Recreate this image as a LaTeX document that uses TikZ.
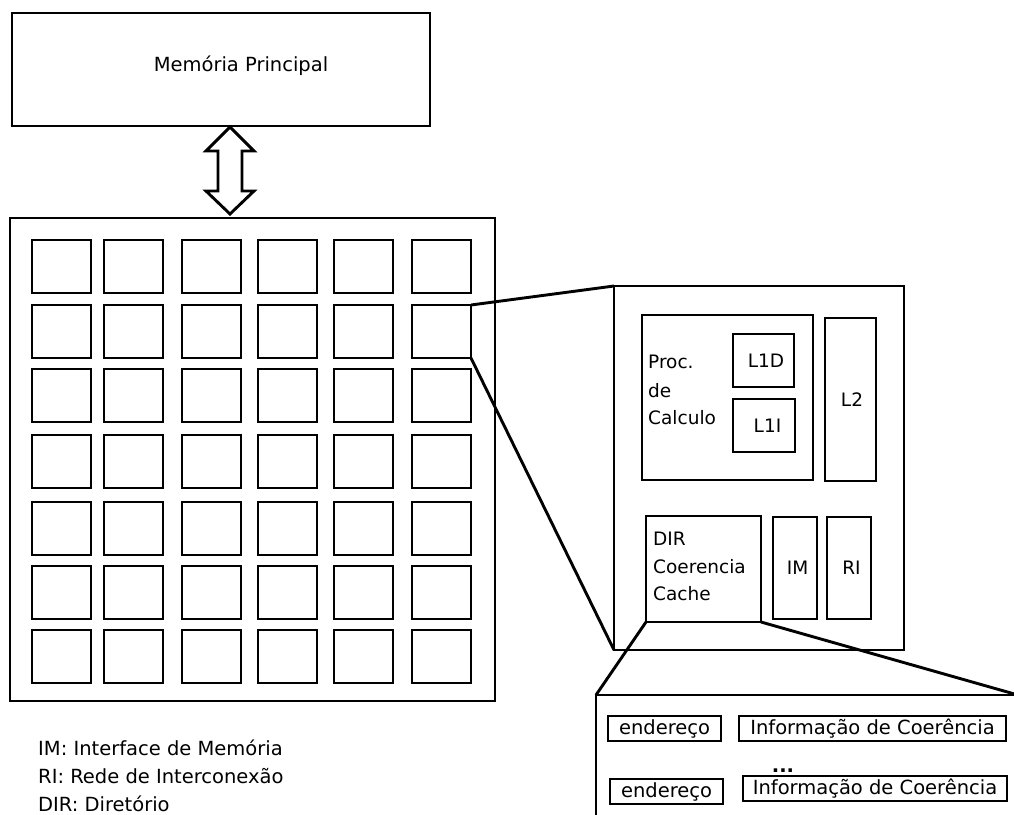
\documentclass[tikz,border=0pt]{standalone}
\usepackage{fontspec}
\setmainfont{DejaVu Sans}
\tikzset{
  bx/.style={draw, line width=2.9pt, inner sep=0pt, outer sep=0pt},
  lbl/.style={inner sep=0pt, anchor=base west},
  conn/.style={line width=2.9pt},
  big/.style={font=\fontsize{19.5}{23}\selectfont},
  mid/.style={font=\fontsize{18.5}{22}\selectfont},
}
\newcommand{\bxnode}[7][]{\node[bx,#1,minimum width={(#5-#3)*1pt},minimum height={(#6-#4)*1pt}] (#2) at ({(#3+#5)/2},{(#4+#6)/2}) {#7};}
\begin{document}
\begin{tikzpicture}[x=1pt,y=-1pt]
\path[use as bounding box] (0,0) rectangle (1014,814);
\clip (0,0) rectangle (1014,814);
\fill[white] (0,0) rectangle (1014,814);

% main memory
\bxnode[big]{mem}{12}{13}{430}{126}{}
\node[big, inner sep=0pt] (memt) at (241,66) {Memória Principal};

% double arrow
\draw[line width=2.9pt, line join=miter, fill=white]
  (230,127) -- (254,151) -- (242,151) -- (242,191) -- (254,191) -- (230,214)
  -- (206,191) -- (218,191) -- (218,151) -- (206,151) -- cycle;

% grid
\bxnode{grid}{10}{218}{495}{701}{}
\foreach \c/\x in {1/32,2/104,3/182,4/258,5/334,6/412}{
  \foreach \r/\y in {1/240,2/305,3/369,4/435,5/502,6/566,7/630}{
    \bxnode{sq-\r-\c}{\x}{\y}{\x+59}{\y+53}{}
  }
}

% detail box
\bxnode{det}{614}{286}{904}{650}{}
\bxnode{proc}{642}{315}{813}{480}{}
\bxnode[mid]{l1d}{733}{334}{794}{387}{\hspace{5pt}L1D}
\bxnode[mid]{l1i}{733}{399}{795}{452}{\hspace{7pt}L1I}
\bxnode[mid]{l2}{825}{318}{876}{481}{\hspace{3pt}L2}
\bxnode{dir}{646}{516}{761}{622}{}
\bxnode[mid]{im}{773}{517}{817}{619}{\hspace{5pt}IM}
\bxnode[mid]{ri}{827}{517}{871}{619}{\hspace{5pt}RI}

\node[lbl, mid] (p1) at (648,368) {Proc.};
\node[lbl, mid] (p2) at (648,397) {de};
\node[lbl, mid] (p3) at (648,424) {Calculo};
\node[lbl, mid] (d1) at (653,545) {DIR};
\node[lbl, mid] (d2) at (653,573) {Coerencia};
\node[lbl, mid] (d3) at (653,600) {Cache};

% bottom directory box
\bxnode{tab}{596}{695}{1018}{840}{}
\bxnode[big]{e1}{608}{716}{721}{741}{endereço}
\bxnode[big]{i1}{739}{716}{1006}{741}{Informação de Coerência}
\node[big, inner sep=0pt, anchor=base] (dots) at (783,772) {\textbf{...}};
\bxnode[big]{e2}{610}{779}{723}{804}{endereço}
\bxnode[big]{i2}{743}{776}{1007}{801}{Informação de Coerência}

% zoom connectors
\draw[conn] (sq-2-6.north east) -- (det.north west);
\draw[conn] (sq-2-6.south east) -- (det.south west);
\draw[conn] (dir.south west) -- (tab.north west);
\draw[conn] (dir.south east) -- (tab.north east);

% legend
\node[lbl, big] (leg1) at (38,755) {IM: Interface de Memória};
\node[lbl, big] (leg2) at (38,783) {RI: Rede de Interconexão};
\node[lbl, big] (leg3) at (38,811) {DIR: Diretório};
\end{tikzpicture}
\end{document}
